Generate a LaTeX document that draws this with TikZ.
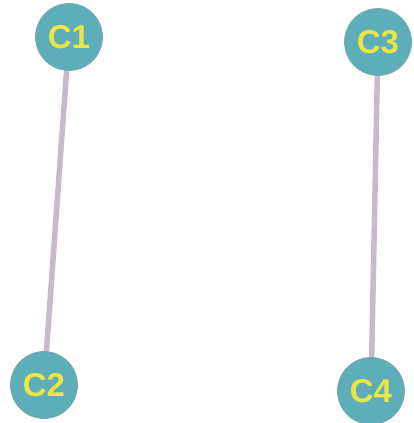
\documentclass[tikz,border=0pt]{standalone}
\usepackage{fontspec}
\setmainfont{Liberation Sans}
\usetikzlibrary{backgrounds}
\definecolor{nodefill}{HTML}{5DAEB9}
\definecolor{nodeedge}{HTML}{7FA9B0}
\definecolor{labelcol}{HTML}{EDE445}
\definecolor{edgecol}{HTML}{C9B9CC}
\tikzset{
  cnode/.style={circle, fill=nodefill, draw=nodeedge, line width=0.8pt,
    minimum size=67pt, inner sep=0pt, text=labelcol,
    font=\fontsize{33}{33}\selectfont\bfseries},
  link/.style={draw=edgecol, line width=5.5pt}
}
\begin{document}
\begin{tikzpicture}[x=1pt,y=-1pt]
  \useasboundingbox (0,0) rectangle (414,423);
  \node[cnode] (c1) at (69,37) {C1};
  \node[cnode] (c2) at (44,385) {C2};
  \node[cnode] (c3) at (378,42) {C3};
  \node[cnode] (c4) at (371,391) {C4};
  \begin{scope}[on background layer]
    \draw[link] (c1.center) -- (c2.center);
    \draw[link] (c3.center) -- (c4.center);
  \end{scope}
\end{tikzpicture}
\end{document}
